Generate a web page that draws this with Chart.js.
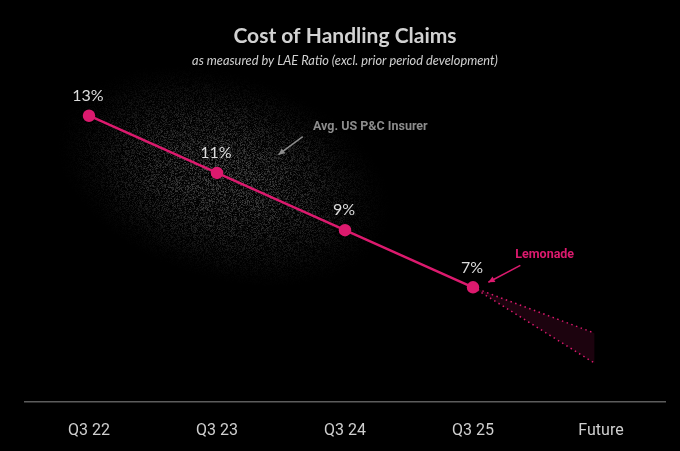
<!DOCTYPE html>
<html>
<head>
<meta charset="utf-8">
<script src="https://cdn.jsdelivr.net/npm/chart.js@4"></script>
<style>
  html, body { margin: 0; padding: 0; background: #000; }
  #wrap { width: 680px; height: 451px; }
</style>
</head>
<body>
<div id="wrap"><canvas id="chart"></canvas></div>
<script>
// categories and values
const labels = ["Q3 22", "Q3 23", "Q3 24", "Q3 25", "Future"];
const lemonade = [13, 11, 9, 7];
// future cone: start at Q3 25, end just before "Future"
const coneX = [3, 3.95];
const coneHigh = [7, 5.4];
const coneLow = [7, 4.35];

const pink = "#dc1a6e";

const mainPoints = lemonade.map((v, i) => ({ x: i, y: v }));
const highPoints = coneX.map((x, i) => ({ x: x, y: coneHigh[i] }));
const lowPoints = coneX.map((x, i) => ({ x: x, y: coneLow[i] }));

// fixed grain for the grey cloud (hash, not random)
function grain(px, py) {
  let n = Math.imul(px, 374761393) + Math.imul(py, 668265263);
  n = Math.imul(n ^ (n >>> 13), 1274126177);
  return ((n ^ (n >>> 16)) >>> 0) / 4294967295;
}

// speckled grey cloud behind the first part of the line (avg insurer)
const cloudPlugin = {
  id: "cloud",
  beforeDatasetsDraw(chart) {
    const { ctx, scales: { x, y } } = chart;
    const cx = x.getPixelForValue(1.05);
    const cy = y.getPixelForValue(10.9);
    const a = 175, b = 105, rot = 0.3;
    const cos = Math.cos(rot), sin = Math.sin(rot);
    const x0 = Math.floor(cx - a), y0 = Math.floor(cy - a);
    const w = 2 * a, h = 2 * a;
    const img = ctx.createImageData(w, h);
    for (let j = 0; j < h; j++) {
      for (let i = 0; i < w; i++) {
        const dx = i + x0 - cx, dy = j + y0 - cy;
        const u = (dx * cos + dy * sin) / a;
        const v = (-dx * sin + dy * cos) / b;
        const d = u * u + v * v;
        if (d >= 1) continue;
        const m = Math.pow(1 - d, 1.6);
        const g = grain(i + x0, j + y0);
        const val = Math.min(255, m * 72 * g * g);
        const k = (j * w + i) * 4;
        img.data[k] = img.data[k + 1] = img.data[k + 2] = val;
        img.data[k + 3] = 255;
      }
    }
    const off = document.createElement("canvas");
    off.width = w;
    off.height = h;
    off.getContext("2d").putImageData(img, 0, 0);
    ctx.save();
    ctx.globalCompositeOperation = "lighter";
    ctx.drawImage(off, x0, y0);
    ctx.restore();
  }
};

function arrow(ctx, x1, y1, x2, y2, color) {
  const a = Math.atan2(y2 - y1, x2 - x1);
  ctx.strokeStyle = color;
  ctx.fillStyle = color;
  ctx.lineWidth = 1.5;
  ctx.beginPath();
  ctx.moveTo(x1, y1);
  ctx.lineTo(x2, y2);
  ctx.stroke();
  ctx.beginPath();
  ctx.moveTo(x2, y2);
  ctx.lineTo(x2 - 7 * Math.cos(a - 0.45), y2 - 7 * Math.sin(a - 0.45));
  ctx.lineTo(x2 - 7 * Math.cos(a + 0.45), y2 - 7 * Math.sin(a + 0.45));
  ctx.closePath();
  ctx.fill();
}

const notesPlugin = {
  id: "notes",
  afterDatasetsDraw(chart) {
    const { ctx, scales: { x, y } } = chart;
    ctx.save();
    // value labels above points
    ctx.font = "16px Lato";
    ctx.fillStyle = "#dcdcdc";
    ctx.textAlign = "center";
    ctx.textBaseline = "middle";
    lemonade.forEach((v, i) => {
      ctx.fillText(v + "%", x.getPixelForValue(i) - 1, y.getPixelForValue(v) - 20);
    });

    // Lemonade note
    ctx.font = "bold 12.5px Roboto";
    ctx.fillStyle = pink;
    ctx.textAlign = "left";
    ctx.fillText("Lemonade", x.getPixelForValue(3.33), y.getPixelForValue(8.12));
    arrow(ctx, x.getPixelForValue(3.37), y.getPixelForValue(7.77),
      x.getPixelForValue(3.12), y.getPixelForValue(7.18), pink);

    // Avg insurer note
    ctx.font = "bold 12.5px Roboto";
    ctx.fillStyle = "#8c8c8c";
    ctx.fillText("Avg. US P&C Insurer", x.getPixelForValue(1.75), y.getPixelForValue(12.62));
    arrow(ctx, x.getPixelForValue(1.67), y.getPixelForValue(12.27),
      x.getPixelForValue(1.48), y.getPixelForValue(11.64), "#8c8c8c");
    ctx.restore();
  }
};

new Chart(document.getElementById("chart"), {
  type: "line",
  data: {
    datasets: [
      {
        label: "Lemonade",
        data: mainPoints,
        borderColor: pink,
        backgroundColor: pink,
        borderWidth: 2.5,
        pointRadius: 5,
        pointHoverRadius: 5,
        order: 0
      },
      {
        label: "high",
        data: highPoints,
        borderColor: pink,
        borderWidth: 1.5,
        borderDash: [1.5, 3.5],
        pointRadius: 0,
        fill: "+1",
        backgroundColor: "rgba(220,26,110,0.13)",
        order: 1
      },
      {
        label: "low",
        data: lowPoints,
        borderColor: pink,
        borderWidth: 1.5,
        borderDash: [1.5, 3.5],
        pointRadius: 0,
        fill: false,
        order: 1
      }
    ]
  },
  options: {
    responsive: true,
    maintainAspectRatio: false,
    animation: false,
    layout: { padding: { left: 25, right: 15, top: 0, bottom: -1 } },
    plugins: {
      legend: { display: false },
      tooltip: { enabled: false },
      title: {
        display: true,
        text: "Cost of Handling Claims",
        color: "#d2d2d2",
        font: { family: "Lato", size: 21, weight: "bold" },
        padding: { top: 24, bottom: 4.1 }
      },
      subtitle: {
        display: true,
        text: "as measured by LAE Ratio (excl. prior period development)",
        color: "#d0d0d0",
        font: { family: "Lato", size: 12.8, style: "italic" },
        padding: { top: 0, bottom: 11.3 }
      }
    },
    scales: {
      x: {
        type: "linear",
        min: -0.5,
        max: 4.5,
        afterBuildTicks: axis => { axis.ticks = labels.map((l, i) => ({ value: i })); },
        grid: { display: false },
        border: { display: true, color: "#5c5c5c", width: 1.5 },
        ticks: {
          color: "#cfcfcf",
          font: { family: "Roboto", size: 16 },
          padding: 11.5,
          callback: v => labels[v]
        }
      },
      y: {
        display: false,
        min: 3,
        max: 14.25
      }
    }
  },
  plugins: [cloudPlugin, notesPlugin]
});
</script>
</body>
</html>
